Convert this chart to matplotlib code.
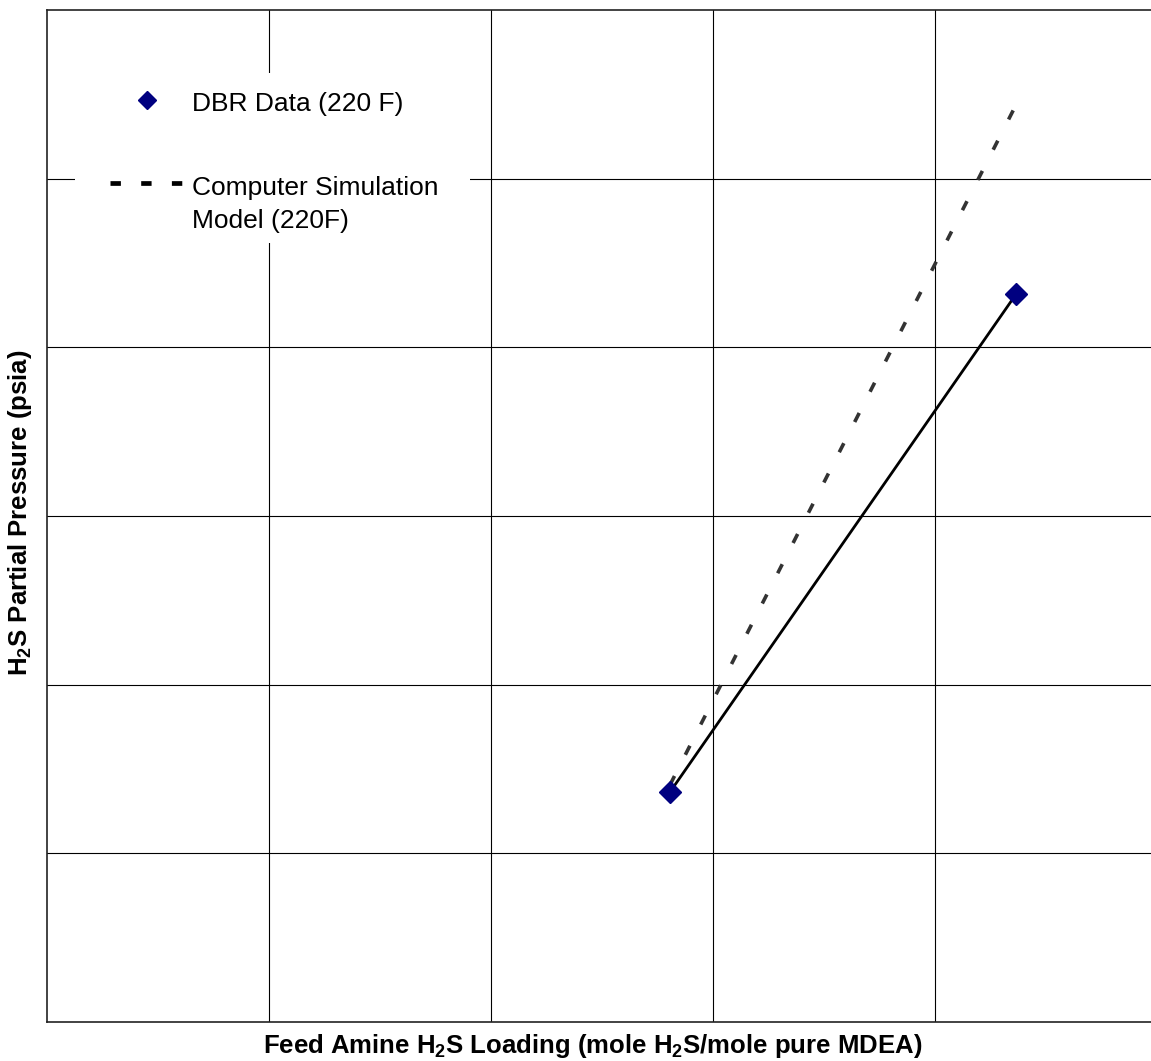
import matplotlib
matplotlib.use("Agg")
import matplotlib.pyplot as plt
from matplotlib.transforms import Affine2D
from matplotlib.patches import Rectangle

plt.rcParams['font.family'] = ['Liberation Sans', 'DejaVu Sans']
plt.rcParams['mathtext.fontset'] = 'custom'
plt.rcParams['mathtext.rm'] = 'Liberation Sans'
plt.rcParams['mathtext.bf'] = 'Liberation Sans:bold'
plt.rcParams['mathtext.it'] = 'Liberation Sans:italic'

# ---- data (arbitrary linear units, no tick labels shown) ----
dbr_x = [0.2806, 0.4365]          # DBR Data (220 F) - loading
dbr_y = [1.363, 4.315]            # partial pressure
sim_x = [0.2806, 0.4362]          # Computer Simulation Model (220F)
sim_y = [1.405, 5.43]
x_grid = [0.1, 0.2, 0.3, 0.4]
y_grid = [1, 2, 3, 4, 5]
xlim = (0.0, 0.5)
ylim = (0.0, 6.0)
dbr_label = "DBR Data (220 F)"
sim_label = ["Computer Simulation", "Model (220F)"]
xlabel = r"Feed Amine H$_\mathbf{2}$S Loading (mole H$_\mathbf{2}$S/mole pure MDEA)"
ylabel = r"H$_\mathbf{2}$S Partial Pressure (psia)"

W, H = 1151, 1061
fig = plt.figure(figsize=(W / 100, H / 100), dpi=100)
ax_l, ax_r, ax_t, ax_b = 47, 1157, 10, 1022
ax = fig.add_axes([ax_l / W, 1 - ax_b / H, (ax_r - ax_l) / W, (ax_b - ax_t) / H])
ax.set_xlim(*xlim)
ax.set_ylim(*ylim)
ax.set_xticks(x_grid)
ax.set_yticks(y_grid)
ax.tick_params(length=0, labelbottom=False, labelleft=False)
ax.grid(True, color='black', linewidth=0.8, zorder=0)
ax.set_axisbelow(True)
for s in ax.spines.values():
    s.set_color('#222222')
    s.set_linewidth(1.2)

# pixel transform for legend layout
pix = Affine2D().scale(1 / W, -1 / H).translate(0, 1) + fig.transFigure

# simulation line (dashed)
ax.plot(sim_x, sim_y, color='#333333', linewidth=2.6, linestyle=(0, (2.8, 6.6)),
        solid_capstyle='butt', dash_capstyle='butt', zorder=3)
# connecting solid line between data points
ax.plot(dbr_x, dbr_y, color='black', linewidth=2.0, zorder=3)
# data points
ax.plot(dbr_x, dbr_y, linestyle='none', marker='D', markersize=11,
        markerfacecolor='#000080', markeredgecolor='#000080', zorder=4)

# ---- legend (white box over grid) ----
ax.add_patch(Rectangle((75, 243), 395, -170, transform=pix, facecolor='white',
                       edgecolor='none', zorder=1, clip_on=False))
ax.plot([147], [100], transform=pix, marker='D', markersize=9, linestyle='none',
        markerfacecolor='#000080', markeredgecolor='#000080', zorder=4, clip_on=False)
ax.text(192, 111, dbr_label, transform=pix, fontsize=19, va='baseline', ha='left', zorder=5)
ax.plot([110, 182.5], [183, 183], transform=pix, color='black', linewidth=3.4,
        linestyle=(0, (2.2, 4.3)), dash_capstyle='butt', zorder=4, clip_on=False)
ax.text(192, 195, sim_label[0], transform=pix, fontsize=19, va='baseline', ha='left', zorder=5)
ax.text(192, 228, sim_label[1], transform=pix, fontsize=19, va='baseline', ha='left', zorder=5)

# ---- axis labels ----
fig.text(593 / W, 1 - 1046 / H, xlabel, fontsize=18.5, fontweight='bold',
         ha='center', va='center')
fig.text(20 / W, 1 - 513 / H, ylabel, fontsize=18.5, fontweight='bold',
         ha='center', va='center', rotation=90)

fig.savefig("out.png", dpi=100)
